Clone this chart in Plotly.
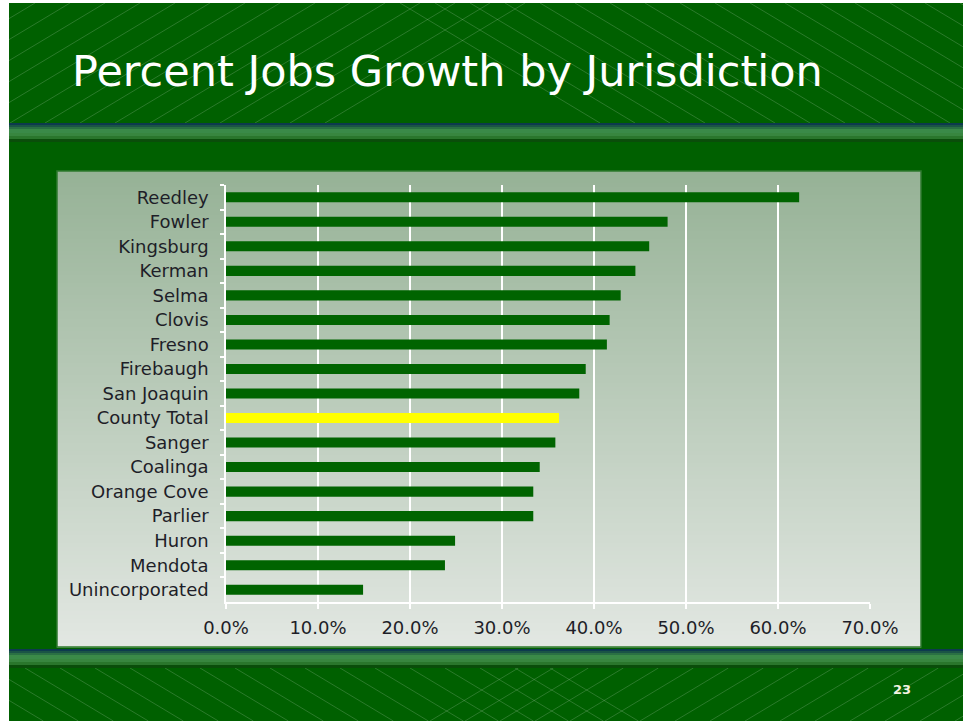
import plotly.graph_objects as go

# ---- data ----
jurisdictions = ["Reedley", "Fowler", "Kingsburg", "Kerman", "Selma", "Clovis", "Fresno",
                 "Firebaugh", "San Joaquin", "County Total", "Sanger", "Coalinga",
                 "Orange Cove", "Parlier", "Huron", "Mendota", "Unincorporated"]
growth_pct = [62.3, 48.0, 46.0, 44.5, 42.9, 41.7, 41.4, 39.1, 38.4, 36.2, 35.8, 34.1,
              33.4, 33.4, 24.9, 23.8, 14.9]
x_ticks = [0, 10, 20, 30, 40, 50, 60, 70]
x_tick_labels = ["0.0%", "10.0%", "20.0%", "30.0%", "40.0%", "50.0%", "60.0%", "70.0%"]
title_text = "Percent Jobs Growth by Jurisdiction"
page_number = "23"

W, H = 963, 721
BG = "#006000"
BAR = "#006400"
HIGHLIGHT = "#ffff00"

def px(x):
    return x / W

def py(y):
    return 1 - y / H

colors = [HIGHLIGHT if j == "County Total" else BAR for j in jurisdictions]

fig = go.Figure(go.Bar(
    x=growth_pct, y=jurisdictions, orientation="h",
    marker=dict(color=colors, line=dict(width=0)),
    width=0.41, hoverinfo="x+y",
))

shapes = []
# slide background
shapes.append(dict(type="rect", xref="paper", yref="paper", x0=px(9), x1=1, y0=0, y1=py(3),
                   fillcolor=BG, line=dict(width=0), layer="below"))

def clip_line(x0, y0, x1, y1, xmin, xmax):
    if x0 > x1:
        x0, y0, x1, y1 = x1, y1, x0, y0
    if x1 < xmin or x0 > xmax:
        return None
    if x0 < xmin:
        t = (xmin - x0) / (x1 - x0)
        y0 = y0 + t * (y1 - y0)
        x0 = xmin
    if x1 > xmax:
        t = (xmax - x0) / (x1 - x0)
        y1 = y0 + t * (y1 - y0)
        x1 = xmax
    return x0, y0, x1, y1

line_col = "rgba(255,255,255,0.17)"
slope = 0.6
def add_lines(ytop, ybot, starts, direction):
    dx = (ybot - ytop) / slope
    for s in starts:
        if direction == "/":
            seg = clip_line(s, ybot, s + dx, ytop, 9, W)
        else:
            seg = clip_line(s, ytop, s + dx, ybot, 9, W)
        if seg:
            a, b, c, d = seg
            shapes.append(dict(type="line", xref="paper", yref="paper",
                               x0=px(a), y0=py(b), x1=px(c), y1=py(d),
                               line=dict(color=line_col, width=1), layer="below"))

step = 35
add_lines(3, 123, range(-200, 330, step), "/")
add_lines(3, 123, range(400, 980, step), "\\")
add_lines(668, 721, range(-80, 560, step), "\\")
add_lines(668, 721, range(430, 980, step), "/")

# horizontal stripes
stripe = [(0, 2, "#0d3a4e"), (2, 4, "#1a5446"), (4, 6, "#2a7044"), (6, 10, "#3a8a48"),
          (10, 13, "#38863f"), (13, 16, "#2a762c"), (16, 19, "#0a4d0a")]
for top in (123, 649):
    for a, b, c in stripe:
        shapes.append(dict(type="rect", xref="paper", yref="paper", x0=px(9), x1=1,
                           y0=py(top + b), y1=py(top + a), fillcolor=c,
                           line=dict(width=0), layer="below"))

# panel gradient
pl, pr, pt, pb = 57, 921, 171, 647
c_top = (150, 178, 150)
c_bot = (226, 231, 226)
n = 119
hstep = (pb - pt) / n
for i in range(n):
    t = i / (n - 1)
    c = tuple(round(c_top[k] + (c_bot[k] - c_top[k]) * t) for k in range(3))
    shapes.append(dict(type="rect", xref="paper", yref="paper", x0=px(pl), x1=px(pr),
                       y0=py(pt + (i + 1) * hstep + 0.5), y1=py(pt + i * hstep),
                       fillcolor="rgb(%d,%d,%d)" % c, line=dict(width=0), layer="below"))
shapes.append(dict(type="rect", xref="paper", yref="paper", x0=px(pl), x1=px(pr),
                   y0=py(pb), y1=py(pt), line=dict(color="#2f7a2f", width=1.5),
                   fillcolor="rgba(0,0,0,0)", layer="below"))

tick_font = dict(family="DejaVu Sans", size=18, color="#1e1e28")

fig.update_layout(
    template="none",
    width=W, height=H,
    margin=dict(l=0, r=0, t=0, b=0, pad=0, autoexpand=False),
    paper_bgcolor="white",
    plot_bgcolor="rgba(0,0,0,0)",
    showlegend=False,
    shapes=shapes,
    xaxis=dict(
        domain=[px(226), px(870)], range=[0, 70], tickmode="array",
        tickvals=x_ticks, ticktext=x_tick_labels, automargin=False,
        showgrid=True, gridcolor="white", gridwidth=1.5,
        showline=True, linecolor="white", linewidth=1.5, zeroline=False,
        ticks="outside", ticklen=5, tickcolor="white", tickwidth=1.5,
        tickfont=tick_font, ticklabelstandoff=4,
    ),
    yaxis=dict(
        domain=[py(602), py(185)], type="category", categoryorder="array",
        categoryarray=jurisdictions, autorange="reversed", automargin=False,
        showgrid=False, showline=True, linecolor="white", linewidth=1.5, zeroline=False,
        ticks="outside", tickson="boundaries", ticklen=4, tickcolor="white", tickwidth=1.5,
        tickfont=tick_font, ticklabelstandoff=12,
    ),
    annotations=[
        dict(text=title_text, xref="paper", yref="paper", x=px(70), y=py(71),
             xanchor="left", yanchor="middle", showarrow=False,
             font=dict(family="DejaVu Sans", size=43, color="white")),
        dict(text="<b>" + page_number + "</b>", xref="paper", yref="paper", x=px(902), y=py(689),
             xanchor="center", yanchor="middle", showarrow=False,
             font=dict(family="DejaVu Sans", size=13, color="#f4f4e0")),
    ],
)

fig.write_html("out.html", config={"displayModeBar": False},
               post_script="document.body.style.margin='0px';")
